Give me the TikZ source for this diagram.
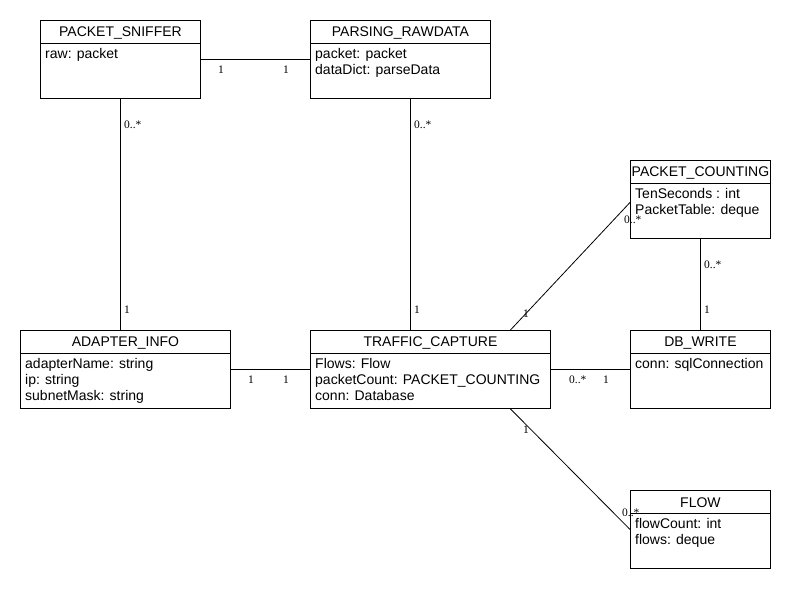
\documentclass[tikz,border=0pt]{standalone}
\usepackage{fontspec}
\setmainfont{Liberation Sans}
\newfontfamily\multfont{Liberation Serif}
\usetikzlibrary{positioning}

\tikzset{
    classbox/.style={draw, line width=0.9pt, fill=white, anchor=north west, minimum height=78pt, inner sep=0pt},
    classtitle/.style={inner sep=0pt, font=\fontsize{14}{16}\selectfont},
    attrs/.style={anchor=north west, align=left, inner sep=0pt, font=\fontsize{14}{16}\selectfont},
    assoc/.style={line width=0.8pt},
    mult/.style={anchor=west, inner sep=0pt, font=\multfont\fontsize{11.5}{12}\selectfont},
}

\begin{document}
\begin{tikzpicture}[x=1pt, y=-1pt]
    % Canvas
    \useasboundingbox (0,0) rectangle (790,590);

    % Parameters
    \def\headheight{23.5}

    % Class boxes
    \foreach \name/\x/\y/\w/\title in {ps/40/20/160/PACKET\_SNIFFER, pr/310/20/180/PARSING\_RAWDATA, pc/630/160/140/PACKET\_COUNTING, ai/20/330/210/ADAPTER\_INFO, tc/310/330/240/TRAFFIC\_CAPTURE, dbw/630/330/140/DB\_WRITE, flow/630/490/140/FLOW} {
        \node[classbox, minimum width=\w pt] (\name) at (\x,\y) {};
        \draw[assoc] ([yshift=-\headheight pt]\name.north west) -- ([yshift=-\headheight pt]\name.north east);
        \node[classtitle] (\name-title) at ([yshift=-13pt]\name.north) {\title};
    }

    % Attributes
    \node[attrs] (ps-attr) at ([shift={(5pt,-28pt)}]ps.north west) {raw: packet};
    \node[attrs] (pr-attr) at ([shift={(5pt,-28pt)}]pr.north west) {packet: packet\\dataDict: parseData};
    \node[attrs] (pc-attr) at ([shift={(5pt,-28pt)}]pc.north west) {TenSeconds : int\\PacketTable: deque};
    \node[attrs] (ai-attr) at ([shift={(5pt,-28pt)}]ai.north west) {adapterName: string\\ip: string\\subnetMask: string};
    \node[attrs] (tc-attr) at ([shift={(5pt,-28pt)}]tc.north west) {Flows: Flow\\packetCount: PACKET\_COUNTING\\conn: Database};
    \node[attrs] (dbw-attr) at ([shift={(5pt,-28pt)}]dbw.north west) {conn: sqlConnection};
    \node[attrs] (flow-attr) at ([shift={(5pt,-28pt)}]flow.north west) {flowCount: int\\flows: deque};

    % Associations
    \draw[assoc] (ps.east) -- (pr.west);
    \draw[assoc] (ps.south) -- (ps.south |- ai.north);
    \draw[assoc] ([xshift=10pt]pr.south) -- ([xshift=10pt]pr.south |- tc.north);
    \draw[assoc] (ai.east) -- (tc.west);
    \draw[assoc] (tc.east) -- (dbw.west);
    \draw[assoc] (pc.south) -- (dbw.north);
    \draw[assoc] ([xshift=80pt]tc.north) -- ([yshift=-3pt]pc.west);
    \draw[assoc] ([xshift=80pt]tc.south) -- (flow.west);

    % Multiplicities
    \node[mult] (m-ps-pr) at (218,70) {1};
    \node[mult] (m-pr-ps) at (283,70) {1};
    \node[mult] (m-ps-ai) at (124,125) {0..*};
    \node[mult] (m-ai-ps) at (124,310) {1};
    \node[mult] (m-pr-tc) at (414,125) {0..*};
    \node[mult] (m-tc-pr) at (414,310) {1};
    \node[mult] (m-ai-tc) at (248,380) {1};
    \node[mult] (m-tc-ai) at (283,380) {1};
    \node[mult] (m-tc-dbw) at (569,380) {0..*};
    \node[mult] (m-dbw-tc) at (603,380) {1};
    \node[mult] (m-pc-dbw) at (704,265) {0..*};
    \node[mult] (m-dbw-pc) at (704,310) {1};
    \node[mult] (m-tc-pc) at (523,314) {1};
    \node[mult] (m-pc-tc) at (624,220) {0..*};
    \node[mult] (m-tc-flow) at (523,430) {1};
    \node[mult] (m-flow-tc) at (622,513) {0..*};
\end{tikzpicture}
\end{document}
